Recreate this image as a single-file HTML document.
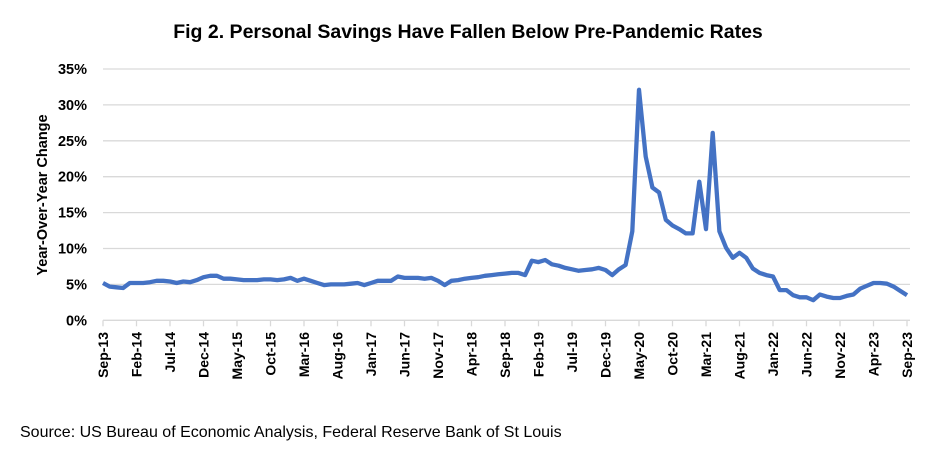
<!DOCTYPE html>
<html><head><meta charset="utf-8"><style>
body{margin:0;background:#fff;width:936px;height:446px;overflow:hidden;font-family:"Liberation Sans",sans-serif}
</style></head><body>
<svg id="chart" width="936" height="446" xmlns="http://www.w3.org/2000/svg" font-family="Liberation Sans, sans-serif">
<text x="468" y="38" text-anchor="middle" font-size="19.5" font-weight="bold" fill="#000">Fig 2. Personal Savings Have Fallen Below Pre-Pandemic Rates</text>
<g id="grid"></g>
<g id="yticks"></g>
<g id="xticks"></g>
<text transform="translate(47,195) rotate(-90)" text-anchor="middle" font-size="14.5" font-weight="bold">Year-Over-Year Change</text>
<path id="line" fill="none" stroke="#4472C4" stroke-width="4.3" stroke-linejoin="round"/>
<text x="20" y="437" font-size="16" fill="#000">Source: US Bureau of Economic Analysis, Federal Reserve Bank of St Louis</text>
</svg>
<script>
const values=[5.2,4.7,4.6,4.5,5.2,5.2,5.2,5.3,5.5,5.5,5.4,5.2,5.4,5.3,5.6,6.0,6.2,6.2,5.8,5.8,5.7,5.6,5.6,5.6,5.7,5.7,5.6,5.7,5.9,5.5,5.8,5.5,5.2,4.9,5.0,5.0,5.0,5.1,5.2,4.9,5.2,5.5,5.5,5.5,6.1,5.9,5.9,5.9,5.8,5.9,5.5,4.9,5.5,5.6,5.8,5.9,6.0,6.2,6.3,6.4,6.5,6.6,6.6,6.3,8.3,8.1,8.4,7.8,7.6,7.3,7.1,6.9,7.0,7.1,7.3,7.0,6.3,7.1,7.7,12.4,32.1,22.8,18.5,17.8,14.0,13.2,12.7,12.1,12.1,19.3,12.7,26.1,12.4,10.1,8.7,9.4,8.7,7.2,6.6,6.3,6.1,4.2,4.2,3.5,3.2,3.2,2.8,3.6,3.3,3.1,3.1,3.4,3.6,4.4,4.8,5.2,5.2,5.1,4.7,4.1,3.5];
const yTickLabels=["0%","5%","10%","15%","20%","25%","30%","35%"];
const yTickValues=[0,5,10,15,20,25,30,35];
const months=["Jan","Feb","Mar","Apr","May","Jun","Jul","Aug","Sep","Oct","Nov","Dec"];
const x0=103,x1=907,y0=320.3,yTop=69;
const n=values.length;
const xs=i=>x0+(x1-x0)*i/(n-1);
const ys=v=>y0-(y0-yTop)*v/35;
const NS="http://www.w3.org/2000/svg";
const grid=document.getElementById('grid'),yt=document.getElementById('yticks'),xt=document.getElementById('xticks');
yTickValues.forEach((v,k)=>{
 const l=document.createElementNS(NS,'line');
 
 
 l.setAttribute('x1',x0);l.setAttribute('x2',x1+3);l.setAttribute('y1',ys(v));l.setAttribute('y2',ys(v));
 l.setAttribute('stroke','#d9d9d9');l.setAttribute('stroke-width','1.3');grid.appendChild(l);
 const t=document.createElementNS(NS,'text');
 
 
 t.setAttribute('x',87);t.setAttribute('y',ys(v)+5);t.setAttribute('text-anchor','end');
 t.setAttribute('font-size','14.5');t.setAttribute('font-weight','bold');t.textContent=yTickLabels[k];yt.appendChild(t);
}
);
for(let i=0;i<n;i+=5){
 const m=(8+i)%12,yr=13+Math.floor((8+i)/12);
 const x=xs(i);
 const tk=document.createElementNS(NS,'line');
 
 
 tk.setAttribute('x1',x);tk.setAttribute('x2',x);tk.setAttribute('y1',y0);tk.setAttribute('y2',y0+6);
 tk.setAttribute('stroke','#d9d9d9');tk.setAttribute('stroke-width','1.3');grid.appendChild(tk);
 const t=document.createElementNS(NS,'text');
 
 
 t.setAttribute('transform','translate('+(x+5)+',332) rotate(-90)');t.setAttribute('text-anchor','end');
 t.setAttribute('font-size','14');t.setAttribute('font-weight','bold');t.textContent=months[m]+'-'+yr;xt.appendChild(t);
}
document.getElementById('line').setAttribute('d',values.map((v,i)=>(i?'L':'M')+xs(i).toFixed(1)+','+ys(v).toFixed(1)).join(''));
</script>
</body></html>
